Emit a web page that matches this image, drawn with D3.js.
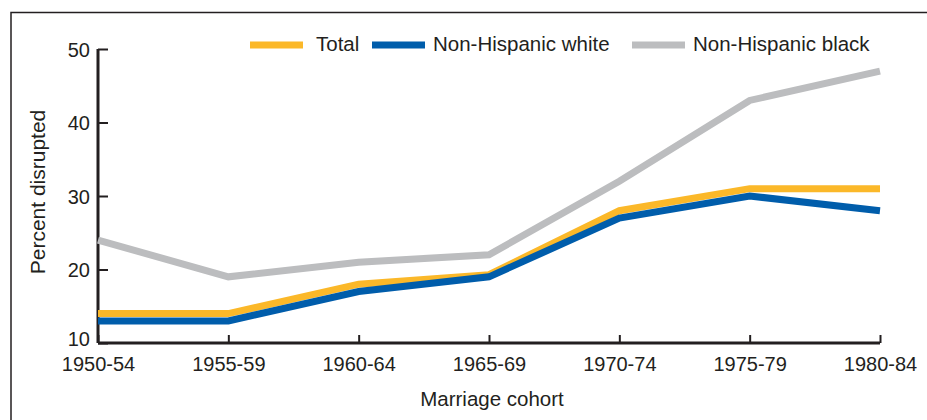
<!DOCTYPE html>
<html>
<head>
<meta charset="utf-8">
<script src="https://cdn.jsdelivr.net/npm/d3@7"></script>
<style>
  body { margin: 0; background: #fff; }
  text { font-family: "Liberation Sans", Arial, Helvetica, sans-serif; fill: #231f20; }
</style>
</head>
<body>
<script>
// chart data
var cohorts = ["1950-54", "1955-59", "1960-64", "1965-69", "1970-74", "1975-79", "1980-84"];
var total = [14, 14, 18, 19.3, 28, 31, 31];
var white = [13, 13, 17, 19, 27, 30, 28];
var black = [24, 19, 21, 22, 32, 43, 47];
var yTicks = [10, 20, 30, 40, 50];
var seriesNames = ["Total", "Non-Hispanic white", "Non-Hispanic black"];

var W = 927, H = 420;
var margin = {top: 49, right: 47, bottom: 77, left: 98},
    width = W - margin.left - margin.right,
    height = H - margin.top - margin.bottom;

var svg = d3.select("body")
  .append("svg")
    .attr("width", W)
    .attr("height", H);

// frame around the figure (open at right and bottom)
svg.append("path")
  .attr("d", "M11,430 V12.5 H940")
  .attr("fill", "none")
  .attr("stroke", "#231f20")
  .attr("stroke-width", 1.5);

var g = svg.append("g")
  .attr("transform", "translate(" + margin.left + "," + margin.top + ")");

var x = d3.scalePoint()
  .domain(cohorts)
  .range([0, width]);

var y = d3.scaleLinear()
  .domain([10, 50])
  .range([height, 0]);

// x axis
var xAxis = g.append("g")
  .attr("transform", "translate(0," + height + ")")
  .call(d3.axisBottom(x).tickSize(-8).tickPadding(14));
xAxis.select(".domain").attr("stroke", "#231f20").attr("stroke-width", 3).attr("d", "M0,0H" + width);
xAxis.selectAll(".tick line").attr("stroke", "#231f20").attr("stroke-width", 2);
xAxis.selectAll(".tick text").attr("font-size", 20).attr("dy", "0.71em");

// y axis
var yAxis = g.append("g")
  .call(d3.axisLeft(y).tickValues(yTicks).tickSize(-10).tickPadding(8));
yAxis.select(".domain").attr("stroke", "#231f20").attr("stroke-width", 3).attr("d", "M0,0V" + height);
yAxis.selectAll(".tick line").attr("stroke", "#231f20").attr("stroke-width", 2);
yAxis.selectAll(".tick text").attr("font-size", 20).attr("dy", "0.36em");
yAxis.selectAll(".tick").filter(function(d) { return d === 10; })
  .select("text").attr("dy", "0.12em");

// axis titles
g.append("text")
  .attr("x", width / 2 + 3)
  .attr("y", height + 63)
  .attr("text-anchor", "middle")
  .attr("font-size", 20.5)
  .text("Marriage cohort");

g.append("text")
  .attr("transform", "translate(" + (45 - margin.left) + "," + (192 - margin.top) + ") rotate(-90)")
  .attr("text-anchor", "middle")
  .attr("font-size", 21)
  .text("Percent disrupted");

// lines
var line = d3.line()
  .x(function(d, i) { return x(cohorts[i]); })
  .y(function(d) { return y(d); });

var series = [
  {name: seriesNames[2], values: black, color: "#bcbdbf"},
  {name: seriesNames[0], values: total, color: "#fbb829"},
  {name: seriesNames[1], values: white, color: "#005dab"}
];

g.selectAll(".series")
  .data(series)
  .enter().append("path")
    .attr("class", "series")
    .attr("fill", "none")
    .attr("stroke", function(d) { return d.color; })
    .attr("stroke-width", 7)
    .attr("stroke-linejoin", "miter")
    .attr("d", function(d) { return line(d.values); });

// legend
var legendItems = [
  {name: seriesNames[0], color: "#fbb829", x: 250},
  {name: seriesNames[1], color: "#005dab", x: 372},
  {name: seriesNames[2], color: "#bcbdbf", x: 632}
];
var legend = svg.selectAll(".legend")
  .data(legendItems)
  .enter().append("g")
    .attr("class", "legend")
    .attr("transform", function(d) { return "translate(" + d.x + ",45)"; });
legend.append("line")
  .attr("x1", 0).attr("x2", 53)
  .attr("stroke", function(d) { return d.color; })
  .attr("stroke-width", 7);
legend.append("text")
  .attr("x", function(d, i) { return i === 0 ? 66 : 61; })
  .attr("y", 6)
  .attr("font-size", 20.5)
  .text(function(d) { return d.name; });
</script>
</body>
</html>
